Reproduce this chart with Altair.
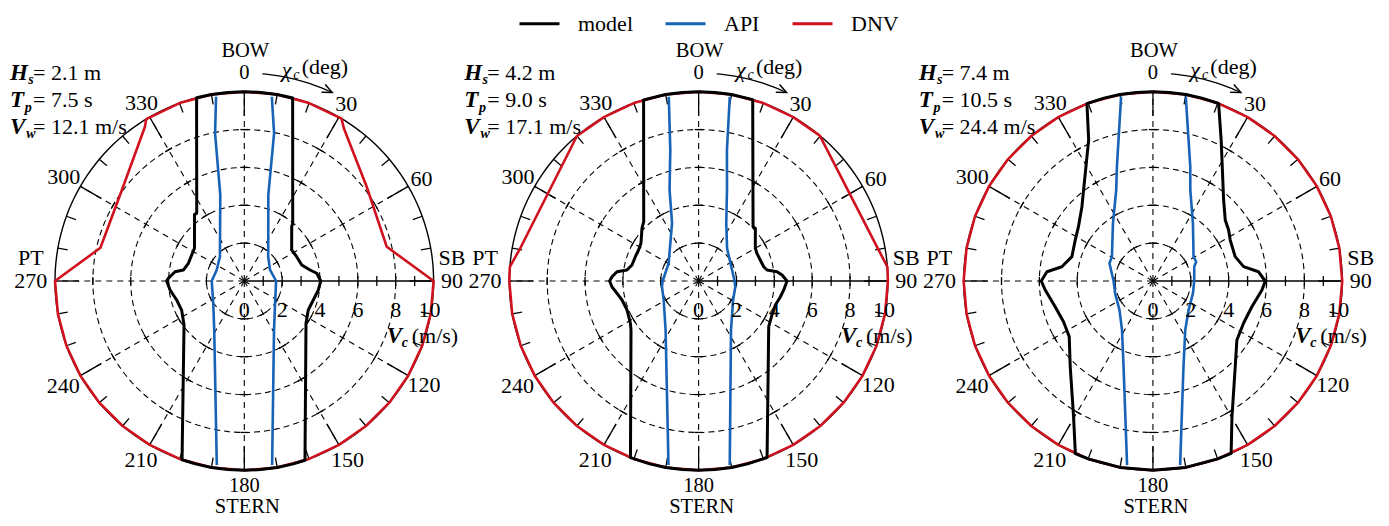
import math
import pandas as pd
import altair as alt

# ---------------- values ----------------
HS = [2.1, 4.2, 7.4]
TP = [7.5, 9.0, 10.5]
VW = [12.1, 17.1, 24.4]
SERIES = ["model", "API", "DNV"]
COLORS = ["#000000", "#1763b8", "#d0121f"]
ANGLE_LABELS = [0, 30, 60, 120, 150, 180, 210, 240, 300, 330]
SPEED_LABELS = [0, 2, 4, 6, 8, 10]

# heading chi_c (deg, clockwise from bow) / limiting current speed Vc (m/s)
P1_MODEL_CHI = [0, 5, 10, 14.8, 40.0, 41.1, 56.8, 65.1, 74.4, 80.5, 83.9, 90, 96.9, 105.4, 114.4, 124.4,
                161.3, 165, 170, 175, 180, 185, 190, 195, 199.2, 233.9, 245.1, 254.3, 263.1,
                270, 272.0, 277.6, 280.2, 287.5, 296.3, 303.3, 323.2, 324.9, 345.4, 350, 355, 360]
P1_MODEL_VC = [10, 10, 10, 10, 3.98, 3.81, 2.99, 3.05, 3.15, 3.52, 3.85, 4.04, 3.94, 3.78, 3.71, 3.95,
               10, 10, 10, 10, 10, 10, 10, 10, 10, 3.94, 3.65, 3.71, 3.95,
               4.10, 4.02, 3.69, 3.27, 3.10, 3.10, 3.15, 4.39, 4.37, 10, 10, 10, 10]
P1_API_R_CHI = [8.5, 11.4, 15.6, 44.6, 66.8, 90, 126.0, 148.8, 171.4]
P1_API_R_VC = [9.84, 7.96, 4.72, 1.80, 1.48, 1.68, 2.01, 3.03, 9.83]
P1_API_L_CHI = [351.3, 348.8, 344.4, 315.0, 291.7, 270, 234.3, 211.5, 188.5]
P1_API_L_VC = [9.85, 7.95, 4.72, 1.82, 1.57, 1.72, 2.02, 3.04, 9.83]
P1_DNV_CHI = [0, 10, 20, 30.9, 33.1, 52.4, 76.5,
              90, 100, 110, 120, 130, 140, 150, 160, 170, 180, 190, 200, 210, 220, 230, 240, 250, 260, 270,
              283.0, 307.6, 327.2, 328.8, 340, 350, 360]
P1_DNV_VC = [10, 10, 10, 10, 9.63, 8.16, 7.74,
             10, 10, 10, 10, 10, 10, 10, 10, 10, 10, 10, 10, 10, 10, 10, 10, 10, 10, 10,
             7.80, 8.10, 9.69, 10, 10, 10, 10]

P2_MODEL_CHI = [0, 5, 10, 16.6, 45.1, 47.1, 60.0, 64.6, 71.2, 77.6, 80.9, 83.2, 85.9,
                90, 96.0, 100.9, 107.4, 114.9, 123.1, 158.8, 165, 170, 175, 180, 185, 190, 195, 201.1,
                234.1, 238.2, 248.0, 256.1, 261.4, 266.2, 270, 272.8, 276.5, 278.7, 283.5, 291.0, 297.3,
                303.2, 313.0, 317.2, 343.1, 350, 355, 360]
P2_MODEL_VC = [10, 10, 10, 10, 4.06, 4.09, 3.46, 3.41, 3.44, 3.52, 3.66, 4.17, 4.42,
               4.67, 4.52, 4.40, 4.25, 4.27, 4.42, 10, 10, 10, 10, 10, 10, 10, 10, 10,
               4.41, 4.24, 4.08, 4.17, 4.36, 4.59, 4.70, 4.58, 4.34, 3.83, 3.62, 3.58, 3.57,
               3.64, 4.09, 4.27, 10, 10, 10, 10]
P2_API_R_CHI = [9.6, 12.2, 17.3, 25.6, 41.0, 71.8, 90, 98.8, 118.9, 146.5, 170.4]
P2_API_R_VC = [9.87, 7.08, 5.04, 3.38, 2.29, 1.86, 1.90, 1.96, 2.08, 3.10, 9.86]
P2_API_L_CHI = [350.8, 347.8, 342.3, 335.3, 300.5, 270, 261.2, 241.5, 214.0, 189.3]
P2_API_L_VC = [9.86, 7.08, 5.05, 3.36, 1.84, 1.90, 1.96, 2.10, 3.12, 9.85]
P2_DNV_CHI = [0, 10, 20, 30, 39.8, 79.1, 85.7,
              90, 100, 110, 120, 130, 140, 150, 160, 170, 180, 190, 200, 210, 220, 230, 240, 250, 260, 270,
              274.3, 280.4, 320.0, 330, 340, 350, 360]
P2_DNV_VC = [10, 10, 10, 10, 10, 9.59, 10,
             10, 10, 10, 10, 10, 10, 10, 10, 10, 10, 10, 10, 10, 10, 10, 10, 10, 10, 10,
             10, 9.58, 10, 10, 10, 10, 10]

P3_MODEL_CHI = [0, 5, 10, 15, 20.3, 25.8, 41.1, 49.8, 56.0, 62.1, 73.5, 81.0, 85.0,
                90, 94.7, 104.6, 115.0, 125.1, 136.2, 149.8, 155.6, 160, 170, 180, 190, 200, 204.2,
                210.3, 224.0, 236.4, 245.5, 255.3, 265.2, 270, 275.0, 278.9, 286.7, 297.8, 306.1,
                316.3, 335.5, 339.6, 345, 350, 355, 360]
P3_MODEL_VC = [10, 10, 10, 10, 10, 8.28, 5.68, 5.00, 4.82, 4.62, 4.53, 4.85, 5.60,
               5.93, 5.78, 5.40, 5.28, 5.42, 6.28, 8.30, 10, 10, 10, 10, 10, 10, 10,
               8.31, 6.29, 5.31, 5.19, 5.34, 5.71, 5.90, 5.62, 4.87, 4.47, 4.64, 4.87,
               5.43, 8.19, 10, 10, 10, 10, 10]
P3_API_R_CHI = [10.1, 18.1, 22.3, 34.7, 59.1, 66.0, 70.9, 90, 107.1, 129.2, 146.6, 160.4, 171.6]
P3_API_R_VC = [9.89, 6.35, 5.20, 3.71, 2.50, 2.50, 2.31, 2.18, 2.21, 2.43, 3.10, 4.81, 9.83]
P3_API_L_CHI = [350.2, 342.5, 338.0, 325.3, 300.7, 292.2, 284.7, 270, 251.9, 229.0, 212.3, 198.9, 188.0]
P3_API_L_VC = [9.88, 6.33, 5.18, 3.71, 2.52, 2.48, 2.29, 2.08, 2.10, 2.34, 3.06, 4.79, 9.82]
P3_DNV_CHI = [0, 10, 20, 30, 40, 50, 60, 70, 80, 90, 100, 110, 120, 130, 140, 150, 160, 170, 180,
              190, 200, 210, 220, 230, 240, 250, 260, 270, 280, 290, 300, 310, 320, 330, 340, 350, 360]
P3_DNV_VC = [10, 10, 10, 10, 10, 10, 10, 10, 10, 10, 10, 10, 10, 10, 10, 10, 10, 10, 10,
             10, 10, 10, 10, 10, 10, 10, 10, 10, 10, 10, 10, 10, 10, 10, 10, 10, 10]

CURVES = {
    0: {"DNV": [(P1_DNV_CHI, P1_DNV_VC)],
        "API": [(P1_API_R_CHI, P1_API_R_VC), (P1_API_L_CHI, P1_API_L_VC)],
        "model": [(P1_MODEL_CHI, P1_MODEL_VC)]},
    1: {"DNV": [(P2_DNV_CHI, P2_DNV_VC)],
        "API": [(P2_API_R_CHI, P2_API_R_VC), (P2_API_L_CHI, P2_API_L_VC)],
        "model": [(P2_MODEL_CHI, P2_MODEL_VC)]},
    2: {"DNV": [(P3_DNV_CHI, P3_DNV_VC)],
        "API": [(P3_API_R_CHI, P3_API_R_VC), (P3_API_L_CHI, P3_API_L_VC)],
        "model": [(P3_MODEL_CHI, P3_MODEL_VC)]},
}

# ---------------- layout ----------------
R = 18.93          # px per m/s
STEP = 24.0        # panel spacing in m/s units
W, H = 1373, 510
X0 = -(244.3 - 8) / R
X1 = X0 + W / R
Y1 = (281 - 8) / R
Y0 = Y1 - H / R
XS = alt.Scale(domain=[X0, X1], nice=False, zero=False)
YS = alt.Scale(domain=[Y0, Y1], nice=False, zero=False)
FONT = "Liberation Serif"


def XY():
    return dict(x=alt.X("x:Q", scale=XS, axis=None), y=alt.Y("y:Q", scale=YS, axis=None))


def RULE():
    return dict(x=alt.X("x:Q", scale=XS, axis=None), y=alt.Y("y:Q", scale=YS, axis=None),
                x2=alt.X2("x2:Q"), y2=alt.Y2("y2:Q"))


def pol(p, r, a):
    t = math.radians(a)
    return p * STEP + r * math.sin(t), r * math.cos(t)


# ---- grid geometry ----
circ = []
for p in range(3):
    for rr in [2, 4, 6, 8, 10]:
        for a in range(0, 361, 2):
            x, y = pol(p, rr, a)
            circ.append({"k": f"{p}-{rr}", "rr": rr, "a": a, "x": x, "y": y})
circ = pd.DataFrame(circ)

rays, axl, ticks = [], [], []
for p in range(3):
    for a in range(0, 360, 30):
        x2, y2 = pol(p, 10, a)
        if a == 90:
            axl.append({"x": p * STEP, "y": 0, "x2": x2, "y2": y2})
        else:
            rays.append({"x": p * STEP, "y": 0, "x2": x2, "y2": y2})
            t = math.radians(a)
            h = 4 / R
            for rr in [2, 4, 6, 8]:
                cx, cy = pol(p, rr, a)
                ticks.append({"x": cx - h * math.cos(t), "y": cy + h * math.sin(t),
                              "x2": cx + h * math.cos(t), "y2": cy - h * math.sin(t)})
    for k in range(1, 10):
        ticks.append({"x": p * STEP + k, "y": -5 / R, "x2": p * STEP + k, "y2": 5 / R})
    for a in range(0, 360, 10):
        L = (24 if a % 30 == 0 else 10) / R
        xa, ya = pol(p, 10, a)
        xb, yb = pol(p, 10 - L, a)
        ticks.append({"x": xa, "y": ya, "x2": xb, "y2": yb})
rays, axl, ticks = pd.DataFrame(rays), pd.DataFrame(axl), pd.DataFrame(ticks)

grid_circles = alt.Chart(circ[circ.rr < 10]).mark_line(
    color="black", strokeWidth=1.1, strokeDash=[6, 4]).encode(**XY(), detail="k:N", order="a:Q")
outer_circle = alt.Chart(circ[circ.rr == 10]).mark_line(
    color="black", strokeWidth=1.4).encode(**XY(), detail="k:N", order="a:Q")
ray_layer = alt.Chart(rays).mark_rule(color="black", strokeWidth=1.1, strokeDash=[6, 5]).encode(**RULE())
axis_layer = alt.Chart(axl).mark_rule(color="black", strokeWidth=1.4).encode(**RULE())
tick_layer = alt.Chart(ticks).mark_rule(color="black", strokeWidth=1.3).encode(**RULE())

# ---- data curves ----
rows = []
for p, d in CURVES.items():
    for s, segs in d.items():
        for k, (chis, vcs) in enumerate(segs):
            for i, (c, v) in enumerate(zip(chis, vcs)):
                rows.append({"panel": p, "series": s, "seg": f"{p}{s}{k}", "i": i, "chi": c, "vc": v})
curve_df = pd.DataFrame(rows)

CSCALE = alt.Scale(domain=SERIES, range=COLORS)
LEG = alt.Legend(title=None, orient="none", legendX=510, legendY=-6, direction="horizontal",
                 symbolType="stroke", symbolSize=1600, symbolStrokeWidth=3,
                 labelFont=FONT, labelFontSize=22, labelColor="black", labelOffset=17,
                 columnPadding=26, padding=0)


def curve_layer(s, width):
    return alt.Chart(curve_df[curve_df.series == s]).transform_calculate(
        x=f"datum.vc * sin(datum.chi * PI / 180) + datum.panel * {STEP}",
        y="datum.vc * cos(datum.chi * PI / 180)",
    ).mark_line(strokeWidth=width, strokeJoin="round").encode(
        **XY(), color=alt.Color("series:N", scale=CSCALE, legend=LEG),
        detail="seg:N", order="i:Q")


dnv = curve_layer("DNV", 2.6)
api = curve_layer("API", 2.6)
model = curve_layer("model", 3.0)

# ---- texts ----
ANG_R = {0: 208.5, 30: 204, 60: 204.5, 120: 207.5, 150: 206.5, 180: 205,
         210: 206.5, 240: 209, 300: 208.5, 330: 205.5}


def T(p, dx, dy, t):
    return {"x": p * STEP + dx / R, "y": -dy / R, "t": t}


reg_c, reg_c2, reg_l, bi_big, bi_small, it_big, it_small = [], [], [], [], [], [], []
for p in range(3):
    for a in ANGLE_LABELS:
        r = ANG_R[a]
        row = T(p, r * math.sin(math.radians(a)), -r * math.cos(math.radians(a)), str(a))
        (reg_c2 if a in (0, 180) else reg_c).append(row)
    reg_c2 += [T(p, 1, -230, "BOW"), T(p, 3, 226, "STERN")]
    reg_c += [T(p, -213.5, -23, "PT"), T(p, -213.5, 0, "270"),
              T(p, 207.7, -23, "SB"), T(p, 207.7, 0, "90")]
    for v in SPEED_LABELS:
        reg_c.append(T(p, v * R - (4 if v == 10 else 0), 29, str(v)))
    reg_l += [T(p, -211.3, -208.5, f"= {HS[p]} m"), T(p, -211.3, -181, f"= {TP[p]:.1f} s"),
              T(p, -211.3, -154.3, f"= {VW[p]} m/s"),
              T(p, 167.4, 55, "(m/s)"), T(p, 57.4, -214, "(deg)")]
    bi_big += [T(p, -234.3, -208.5, "H"), T(p, -234.3, -181, "T"), T(p, -234.3, -154.3, "V"),
               T(p, 142.4, 55, "V")]
    bi_small += [T(p, -216, -201, "s"), T(p, -219.5, -173, "p"), T(p, -218, -147, "w"),
                 T(p, 157.4, 62, "c")]
    it_big.append(T(p, 37.4, -211, "χ"))
    it_small.append(T(p, 49, -206, "c"))


def text_layer(rows_, size, align, **kw):
    return alt.Chart(pd.DataFrame(rows_)).mark_text(
        font=FONT, fontSize=size, align=align, baseline="middle", color="black", **kw
    ).encode(**XY(), text="t:N")


texts = [
    text_layer(reg_c, 22, "center"),
    text_layer(reg_c2, 20.5, "center"),
    text_layer(reg_l, 22, "left"),
    text_layer(bi_big, 23, "left", fontWeight="bold", fontStyle="italic"),
    text_layer(bi_small, 14, "left", fontWeight="bold", fontStyle="italic"),
    text_layer(it_big, 22, "left", fontStyle="italic"),
    text_layer(it_small, 14, "left", fontStyle="italic"),
]

# ---- chi arrow ----
arc = []
for p in range(3):
    for a in range(5, 26):
        x, y = pol(p, 208 / R, a)
        arc.append({"k": p, "a": a, "x": x, "y": y})
arc = pd.DataFrame(arc)
arrow_line = alt.Chart(arc).mark_line(color="black", strokeWidth=1.3).encode(
    **XY(), detail="k:N", order="a:Q")
arrow_head = alt.Chart(arc[arc.a == 25]).mark_point(
    shape="M-1,-0.45L0,0L-1,0.45", size=380, filled=False, color="black",
    strokeWidth=1.5, angle=25, opacity=1).encode(**XY())

chart = alt.layer(
    grid_circles, ray_layer, outer_circle, axis_layer, tick_layer,
    dnv, api, model, arrow_line, arrow_head, *texts
).properties(
    width=W, height=H, padding=0, autosize=alt.AutoSizeParams(type="none")
).configure_view(stroke=None)

chart.save("out.html", embed_options={"renderer": "svg", "actions": False})
